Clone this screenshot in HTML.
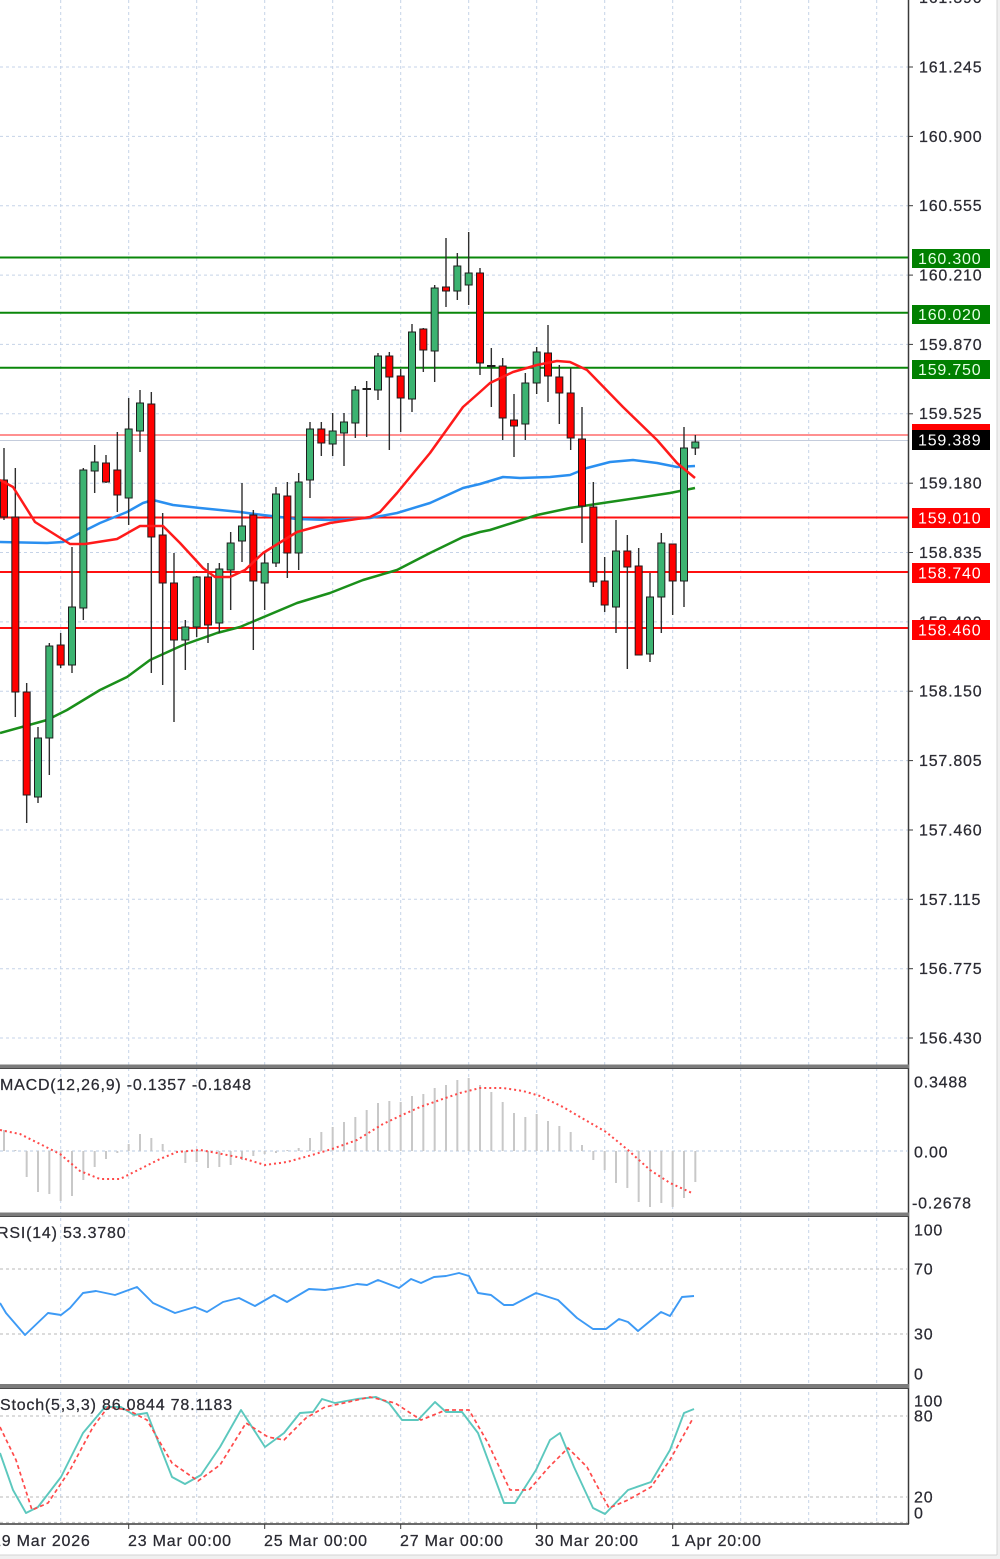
<!DOCTYPE html>
<html><head><meta charset="utf-8"><style>
html,body{margin:0;padding:0;background:#fff;}
svg{display:block;}
text{font-family:"Liberation Sans",sans-serif;font-size:16px;fill:#2b2b33;letter-spacing:0.8px;stroke:#2b2b33;stroke-width:0.25px;}
</style></head><body>
<svg width="1000" height="1559" viewBox="0 0 1000 1559" xmlns="http://www.w3.org/2000/svg">
<rect x="0" y="0" width="1000" height="1559" fill="#ffffff"/>
<rect x="997" y="0" width="3" height="1559" fill="#f0f0f0"/>
<line x1="997" y1="0" x2="997" y2="1555" stroke="#d4d4d4" stroke-width="1"/>
<rect x="0" y="1555" width="1000" height="4" fill="#f0f0f0"/>
<line x1="0" y1="1555" x2="997" y2="1555" stroke="#d4d4d4" stroke-width="1"/>

<!-- vertical grid -->
<g stroke="#c5d3e8" stroke-width="1" stroke-dasharray="3,3">
<line x1="60.7" y1="0" x2="60.7" y2="1524"/><line x1="128.7" y1="0" x2="128.7" y2="1524"/>
<line x1="196.7" y1="0" x2="196.7" y2="1524"/><line x1="264.7" y1="0" x2="264.7" y2="1524"/>
<line x1="332.7" y1="0" x2="332.7" y2="1524"/><line x1="400.7" y1="0" x2="400.7" y2="1524"/>
<line x1="468.7" y1="0" x2="468.7" y2="1524"/><line x1="536.7" y1="0" x2="536.7" y2="1524"/>
<line x1="604.7" y1="0" x2="604.7" y2="1524"/><line x1="672.7" y1="0" x2="672.7" y2="1524"/>
<line x1="740.7" y1="0" x2="740.7" y2="1524"/><line x1="808.7" y1="0" x2="808.7" y2="1524"/>
<line x1="876.7" y1="0" x2="876.7" y2="1524"/>
</g>
<!-- horizontal grid main -->
<g stroke="#c5d3e8" stroke-width="1" stroke-dasharray="3,3">
<line x1="0" y1="67" x2="908" y2="67"/><line x1="0" y1="136.4" x2="908" y2="136.4"/>
<line x1="0" y1="205.7" x2="908" y2="205.7"/><line x1="0" y1="275.1" x2="908" y2="275.1"/>
<line x1="0" y1="344.4" x2="908" y2="344.4"/><line x1="0" y1="413.8" x2="908" y2="413.8"/>
<line x1="0" y1="483.2" x2="908" y2="483.2"/><line x1="0" y1="552.5" x2="908" y2="552.5"/>
<line x1="0" y1="621.9" x2="908" y2="621.9"/><line x1="0" y1="691.2" x2="908" y2="691.2"/>
<line x1="0" y1="760.6" x2="908" y2="760.6"/><line x1="0" y1="830" x2="908" y2="830"/>
<line x1="0" y1="899.3" x2="908" y2="899.3"/><line x1="0" y1="968.7" x2="908" y2="968.7"/>
<line x1="0" y1="1038" x2="908" y2="1038"/>
</g>

<!-- level lines -->
<g stroke-width="2">
<line x1="0" y1="257.5" x2="908" y2="257.5" stroke="#0a870a"/>
<line x1="0" y1="312.7" x2="908" y2="312.7" stroke="#0a870a"/>
<line x1="0" y1="367.7" x2="908" y2="367.7" stroke="#0a870a"/>
<line x1="0" y1="517.5" x2="908" y2="517.5" stroke="#ff1010"/>
<line x1="0" y1="572" x2="908" y2="572" stroke="#ff1010"/>
<line x1="0" y1="628" x2="908" y2="628" stroke="#ff1010"/>
<line x1="0" y1="435" x2="908" y2="435" stroke="#ff9090"/>
</g>
<line x1="0" y1="440.5" x2="908" y2="440.5" stroke="#c4ccdc" stroke-width="1"/>

<!-- moving averages -->
<g fill="none" stroke-width="2.5" stroke-linejoin="round">
<polyline stroke="#1a8f1a" points="0,733 47,720 67,710 100,690 127,677 150,660 183,645 217,633 240,627 297,603 330,593 363,580 397,570 430,553 463,537 480,532 490,530 537,515 570,508 603,503 637,498 670,493 695,488"/>
<polyline stroke="#2a8ff0" points="0,542 47,543 63,542 80,533 100,523 127,512 143,503 153,500 173,505 200,508 240,512 263,515 297,519 330,520 370,518 397,513 430,503 463,488 480,484 503,477 520,478 550,477 570,475 587,468 610,462 633,460 657,463 677,467 695,466"/>
</g>

<!-- candles -->
<g stroke="#2e2e2e" stroke-width="1.4">
<line x1="4" y1="448" x2="4" y2="520"/><line x1="15.33" y1="468" x2="15.33" y2="717"/>
<line x1="26.67" y1="683" x2="26.67" y2="823"/><line x1="38" y1="727" x2="38" y2="803"/>
<line x1="49.33" y1="643" x2="49.33" y2="775"/><line x1="60.67" y1="633" x2="60.67" y2="668"/>
<line x1="72" y1="547" x2="72" y2="673"/><line x1="83.33" y1="468" x2="83.33" y2="620"/>
<line x1="94.67" y1="445" x2="94.67" y2="493"/><line x1="106" y1="455" x2="106" y2="483"/>
<line x1="117.33" y1="432" x2="117.33" y2="512"/><line x1="128.67" y1="398" x2="128.67" y2="525"/>
<line x1="140" y1="390" x2="140" y2="452"/><line x1="151.33" y1="392" x2="151.33" y2="673"/>
<line x1="162.67" y1="513" x2="162.67" y2="685"/><line x1="174" y1="553" x2="174" y2="722"/>
<line x1="185.33" y1="620" x2="185.33" y2="670"/><line x1="196.67" y1="576" x2="196.67" y2="637"/>
<line x1="208" y1="563" x2="208" y2="643"/><line x1="219.33" y1="563" x2="219.33" y2="633"/>
<line x1="230.67" y1="532" x2="230.67" y2="610"/><line x1="242" y1="483" x2="242" y2="562"/>
<line x1="253.33" y1="510" x2="253.33" y2="650"/><line x1="264.67" y1="553" x2="264.67" y2="610"/>
<line x1="276" y1="487" x2="276" y2="567"/><line x1="287.33" y1="482" x2="287.33" y2="578"/>
<line x1="298.67" y1="473" x2="298.67" y2="570"/><line x1="310" y1="422" x2="310" y2="498"/>
<line x1="321.33" y1="422" x2="321.33" y2="456"/><line x1="332.67" y1="413" x2="332.67" y2="456"/>
<line x1="344" y1="413" x2="344" y2="466"/><line x1="355.33" y1="386" x2="355.33" y2="438"/>
<line x1="366.67" y1="381" x2="366.67" y2="437"/><line x1="378" y1="353" x2="378" y2="400"/>
<line x1="389.33" y1="352" x2="389.33" y2="450"/><line x1="400.67" y1="369" x2="400.67" y2="432"/>
<line x1="412" y1="324" x2="412" y2="412"/><line x1="423.33" y1="328" x2="423.33" y2="372"/>
<line x1="434.67" y1="285" x2="434.67" y2="382"/><line x1="446" y1="238" x2="446" y2="307"/>
<line x1="457.33" y1="253" x2="457.33" y2="300"/><line x1="468.67" y1="232" x2="468.67" y2="305"/>
<line x1="480" y1="268" x2="480" y2="375"/><line x1="491.33" y1="348" x2="491.33" y2="407"/>
<line x1="502.67" y1="358" x2="502.67" y2="440"/><line x1="514" y1="394" x2="514" y2="457"/>
<line x1="525.33" y1="373" x2="525.33" y2="440"/><line x1="536.67" y1="347" x2="536.67" y2="394"/>
<line x1="548" y1="325" x2="548" y2="402"/><line x1="559.33" y1="365" x2="559.33" y2="424"/>
<line x1="570.67" y1="368" x2="570.67" y2="450"/><line x1="582" y1="407" x2="582" y2="543"/>
<line x1="593.33" y1="482" x2="593.33" y2="587"/><line x1="604.67" y1="557" x2="604.67" y2="612"/>
<line x1="616" y1="520" x2="616" y2="633"/><line x1="627.33" y1="535" x2="627.33" y2="669"/>
<line x1="638.67" y1="548" x2="638.67" y2="655"/><line x1="650" y1="573" x2="650" y2="662"/>
<line x1="661.33" y1="533" x2="661.33" y2="633"/><line x1="672.67" y1="544" x2="672.67" y2="615"/>
<line x1="684" y1="427" x2="684" y2="607"/><line x1="695.33" y1="435" x2="695.33" y2="455"/>
</g>
<g stroke="#1e1e1e" stroke-width="1">
<!-- red -->
<g fill="#ff0000">
<rect x="0.5" y="480" width="7" height="37"/><rect x="11.83" y="517" width="7" height="175"/>
<rect x="23.17" y="692" width="7" height="103"/><rect x="57.17" y="645" width="7" height="20"/>
<rect x="102.5" y="463" width="7" height="19"/><rect x="113.83" y="470" width="7" height="25"/>
<rect x="147.83" y="404" width="7" height="133"/><rect x="159.17" y="535" width="7" height="48"/>
<rect x="170.5" y="583" width="7" height="57"/><rect x="204.5" y="577" width="7" height="48"/>
<rect x="249.83" y="515" width="7" height="66"/><rect x="283.83" y="496" width="7" height="57"/>
<rect x="317.83" y="429" width="7" height="14"/><rect x="385.83" y="356" width="7" height="21"/>
<rect x="397.17" y="376" width="7" height="22"/><rect x="419.83" y="329" width="7" height="21"/>
<rect x="442.5" y="287" width="7" height="4"/><rect x="476.5" y="273" width="7" height="90"/>
<rect x="499.17" y="366" width="7" height="52"/><rect x="510.5" y="420" width="7" height="6"/>
<rect x="544.5" y="353" width="7" height="23"/><rect x="555.83" y="377" width="7" height="16"/>
<rect x="567.17" y="393" width="7" height="45"/><rect x="578.5" y="439" width="7" height="67"/>
<rect x="589.83" y="507" width="7" height="75"/><rect x="601.17" y="581" width="7" height="24"/>
<rect x="623.83" y="551" width="7" height="16"/><rect x="635.17" y="566" width="7" height="89"/>
<rect x="669.17" y="544" width="7" height="37"/>
</g>
<!-- green -->
<g fill="#3cb371">
<rect x="34.5" y="738" width="7" height="59"/><rect x="45.83" y="646" width="7" height="92"/>
<rect x="68.5" y="607" width="7" height="58"/><rect x="79.83" y="470" width="7" height="138"/>
<rect x="91.17" y="462" width="7" height="9"/><rect x="125.17" y="429" width="7" height="69"/>
<rect x="136.5" y="403" width="7" height="28"/><rect x="181.83" y="627" width="7" height="13"/>
<rect x="193.17" y="577" width="7" height="50"/><rect x="215.83" y="569" width="7" height="54"/>
<rect x="227.17" y="543" width="7" height="27"/><rect x="238.5" y="526" width="7" height="15"/>
<rect x="261.17" y="563" width="7" height="20"/><rect x="272.5" y="494" width="7" height="69"/>
<rect x="295.17" y="482" width="7" height="71"/><rect x="306.5" y="429" width="7" height="51"/>
<rect x="329.17" y="431" width="7" height="13"/><rect x="340.5" y="422" width="7" height="11"/>
<rect x="351.83" y="390" width="7" height="33"/><rect x="374.5" y="356" width="7" height="34"/>
<rect x="408.5" y="332" width="7" height="67"/><rect x="431.17" y="288" width="7" height="63"/>
<rect x="453.83" y="266" width="7" height="25"/><rect x="465.17" y="273" width="7" height="12"/>
<rect x="521.83" y="383" width="7" height="41"/><rect x="533.17" y="352" width="7" height="31"/>
<rect x="612.5" y="551" width="7" height="56"/><rect x="646.5" y="597" width="7" height="57"/>
<rect x="657.83" y="543" width="7" height="54"/><rect x="680.5" y="448" width="7" height="133"/>
<rect x="691.83" y="442" width="7" height="6"/>
</g>
</g>
<!-- dojis -->
<line x1="362.5" y1="389" x2="371" y2="389" stroke="#1e1e1e" stroke-width="2"/>
<line x1="487" y1="366" x2="495.5" y2="366" stroke="#1e1e1e" stroke-width="2"/>

<!-- red MA on top -->
<polyline fill="none" stroke="#ff1a1a" stroke-width="2.5" stroke-linejoin="round" points="0,480 13,487 35,522 70,544 85,544 117,539 140,526 163,526 180,543 203,568 215,577 230,577 245,570 263,553 297,532 330,523 370,517 380,512 397,493 430,453 463,407 480,392 490,383 513,372 537,365 557,361 570,362 587,370 623,407 657,440 677,463 695,478"/>

<!-- price axis -->
<line x1="908.5" y1="0" x2="908.5" y2="1524" stroke="#3a3a3a" stroke-width="1.5"/>
<g stroke="#3a3a3a" stroke-width="1">
<line x1="908" y1="67" x2="913" y2="67"/><line x1="908" y1="136.4" x2="913" y2="136.4"/>
<line x1="908" y1="205.7" x2="913" y2="205.7"/><line x1="908" y1="275.1" x2="913" y2="275.1"/>
<line x1="908" y1="344.4" x2="913" y2="344.4"/><line x1="908" y1="413.8" x2="913" y2="413.8"/>
<line x1="908" y1="483.2" x2="913" y2="483.2"/><line x1="908" y1="552.5" x2="913" y2="552.5"/>
<line x1="908" y1="691.2" x2="913" y2="691.2"/><line x1="908" y1="760.6" x2="913" y2="760.6"/>
<line x1="908" y1="830" x2="913" y2="830"/><line x1="908" y1="899.3" x2="913" y2="899.3"/>
<line x1="908" y1="968.7" x2="913" y2="968.7"/><line x1="908" y1="1038" x2="913" y2="1038"/>
</g>
<g>
<text x="919" y="3">161.590</text>
<text x="919" y="72.5">161.245</text>
<text x="919" y="142">160.900</text>
<text x="919" y="211">160.555</text>
<text x="919" y="280.5">160.210</text>
<text x="919" y="350">159.870</text>
<text x="919" y="419">159.525</text>
<text x="919" y="488.5">159.180</text>
<text x="919" y="558">158.835</text>
<text x="919" y="627.5">158.490</text>
<text x="919" y="696.5">158.150</text>
<text x="919" y="766">157.805</text>
<text x="919" y="835.5">157.460</text>
<text x="919" y="905">157.115</text>
<text x="919" y="974">156.775</text>
<text x="919" y="1043.5">156.430</text>
</g>
<!-- level labels -->
<rect x="912" y="249" width="78" height="19" fill="#008000"/>
<text x="918" y="264" style="fill:#e6ffe6;stroke:none">160.300</text>
<rect x="912" y="305" width="78" height="19" fill="#008000"/>
<text x="918" y="320" style="fill:#e6ffe6;stroke:none">160.020</text>
<rect x="912" y="360" width="78" height="19" fill="#008000"/>
<text x="918" y="375" style="fill:#e6ffe6;stroke:none">159.750</text>
<rect x="912" y="508" width="78" height="20" fill="#ff0000"/>
<text x="918" y="523.5" style="fill:#ffffff;stroke:none">159.010</text>
<rect x="912" y="563" width="78" height="20" fill="#ff0000"/>
<text x="918" y="578.5" style="fill:#ffffff;stroke:none">158.740</text>
<rect x="912" y="620" width="78" height="20" fill="#ff0000"/>
<text x="918" y="635.5" style="fill:#ffffff;stroke:none">158.460</text>
<rect x="912" y="424" width="78" height="20" fill="#ff0000"/>
<rect x="912" y="430" width="78" height="20" fill="#000000"/>
<text x="918" y="445.5" style="fill:#ffffff;stroke:none">159.389</text>

<!-- separators -->
<rect x="0" y="1064.5" width="909" height="4.5" fill="#7c7c7c"/>
<line x1="0" y1="1068.5" x2="909" y2="1068.5" stroke="#4a4a4a" stroke-width="1"/>
<rect x="0" y="1212.5" width="909" height="4.5" fill="#7c7c7c"/>
<line x1="0" y1="1216.5" x2="909" y2="1216.5" stroke="#4a4a4a" stroke-width="1"/>
<rect x="0" y="1384" width="909" height="4.5" fill="#7c7c7c"/>
<line x1="0" y1="1388.5" x2="909" y2="1388.5" stroke="#4a4a4a" stroke-width="1"/>

<!-- MACD panel -->
<line x1="0" y1="1151" x2="908" y2="1151" stroke="#c5d3e8" stroke-width="1.2" stroke-dasharray="3,3"/>
<g stroke="#c8c8c8" stroke-width="2">
<line x1="4" y1="1151" x2="4" y2="1130"/><line x1="15.33" y1="1151" x2="15.33" y2="1150"/>
<line x1="26.67" y1="1151" x2="26.67" y2="1177"/><line x1="38" y1="1151" x2="38" y2="1192"/>
<line x1="49.33" y1="1151" x2="49.33" y2="1194"/><line x1="60.67" y1="1151" x2="60.67" y2="1201"/>
<line x1="72" y1="1151" x2="72" y2="1196"/><line x1="83.33" y1="1151" x2="83.33" y2="1180"/>
<line x1="94.67" y1="1151" x2="94.67" y2="1167"/><line x1="106" y1="1151" x2="106" y2="1159"/>
<line x1="117.33" y1="1151" x2="117.33" y2="1153"/><line x1="128.67" y1="1151" x2="128.67" y2="1144"/>
<line x1="140" y1="1151" x2="140" y2="1134"/><line x1="151.33" y1="1151" x2="151.33" y2="1138"/>
<line x1="162.67" y1="1151" x2="162.67" y2="1144"/><line x1="174" y1="1151" x2="174" y2="1151"/>
<line x1="185.33" y1="1151" x2="185.33" y2="1163"/><line x1="196.67" y1="1151" x2="196.67" y2="1162"/>
<line x1="208" y1="1151" x2="208" y2="1168"/><line x1="219.33" y1="1151" x2="219.33" y2="1167"/>
<line x1="230.67" y1="1151" x2="230.67" y2="1165"/><line x1="242" y1="1151" x2="242" y2="1160"/>
<line x1="253.33" y1="1151" x2="253.33" y2="1156"/><line x1="264.67" y1="1151" x2="264.67" y2="1154"/>
<line x1="276" y1="1151" x2="276" y2="1153"/><line x1="287.33" y1="1151" x2="287.33" y2="1150"/>
<line x1="298.67" y1="1151" x2="298.67" y2="1148"/><line x1="310" y1="1151" x2="310" y2="1138"/>
<line x1="321.33" y1="1151" x2="321.33" y2="1132"/><line x1="332.67" y1="1151" x2="332.67" y2="1127"/>
<line x1="344" y1="1151" x2="344" y2="1122"/><line x1="355.33" y1="1151" x2="355.33" y2="1117"/>
<line x1="366.67" y1="1151" x2="366.67" y2="1110"/><line x1="378" y1="1151" x2="378" y2="1103"/>
<line x1="389.33" y1="1151" x2="389.33" y2="1101"/><line x1="400.67" y1="1151" x2="400.67" y2="1102"/>
<line x1="412" y1="1151" x2="412" y2="1096"/><line x1="423.33" y1="1151" x2="423.33" y2="1094"/>
<line x1="434.67" y1="1151" x2="434.67" y2="1088"/><line x1="446" y1="1151" x2="446" y2="1085"/>
<line x1="457.33" y1="1151" x2="457.33" y2="1080"/><line x1="468.67" y1="1151" x2="468.67" y2="1078"/>
<line x1="480" y1="1151" x2="480" y2="1085"/><line x1="491.33" y1="1151" x2="491.33" y2="1092"/>
<line x1="502.67" y1="1151" x2="502.67" y2="1102"/><line x1="514" y1="1151" x2="514" y2="1113"/>
<line x1="525.33" y1="1151" x2="525.33" y2="1117"/><line x1="536.67" y1="1151" x2="536.67" y2="1114"/>
<line x1="548" y1="1151" x2="548" y2="1121"/><line x1="559.33" y1="1151" x2="559.33" y2="1126"/>
<line x1="570.67" y1="1151" x2="570.67" y2="1132"/><line x1="582" y1="1151" x2="582" y2="1145"/>
<line x1="593.33" y1="1151" x2="593.33" y2="1160"/><line x1="604.67" y1="1151" x2="604.67" y2="1170"/>
<line x1="616" y1="1151" x2="616" y2="1183"/><line x1="627.33" y1="1151" x2="627.33" y2="1188"/>
<line x1="638.67" y1="1151" x2="638.67" y2="1202"/><line x1="650" y1="1151" x2="650" y2="1207"/>
<line x1="661.33" y1="1151" x2="661.33" y2="1203"/><line x1="672.67" y1="1151" x2="672.67" y2="1207"/>
<line x1="684" y1="1151" x2="684" y2="1198"/><line x1="695.33" y1="1151" x2="695.33" y2="1182"/>
</g>
<polyline fill="none" stroke="#ff4a4a" stroke-width="2" stroke-dasharray="2,3" points="0,1130 20,1134 40,1144 60,1154 80,1171 100,1179 120,1179 140,1169 160,1159 177,1152 200,1150 217,1153 242,1158 265,1165 287,1162 312,1155 332,1149 357,1140 383,1124 400,1116 420,1107 437,1101 460,1093 480,1088 503,1088 523,1091 540,1096 563,1107 580,1117 606,1132 628,1150 650,1170 670,1183 692,1193"/>
<text x="0" y="1090">MACD(12,26,9) -0.1357 -0.1848</text>
<text x="914" y="1087.5">0.3488</text>
<text x="914" y="1157.5">0.00</text>
<text x="912" y="1208.5">-0.2678</text>

<!-- RSI panel -->
<g stroke="#c8c8c8" stroke-width="1.2" stroke-dasharray="3,3">
<line x1="0" y1="1269" x2="908" y2="1269"/><line x1="0" y1="1334" x2="908" y2="1334"/>
</g>
<polyline fill="none" stroke="#3d9af5" stroke-width="1.9" stroke-linejoin="round" points="0,1303 6,1313 25,1335 48,1313 61,1315 70,1308 83,1293 96,1291 115,1295 137,1287 153,1303 175,1313 195,1307 207,1312 223,1302 239,1298 255,1306 274,1295 287,1302 309,1289 325,1290 344,1287 357,1284 367,1285 378,1280 399,1288 411,1279 421,1283 434,1277 446,1276 459,1273 469,1276 478,1293 491,1295 504,1305 513,1305 536,1293 558,1300 577,1318 593,1329 606,1329 619,1319 628,1322 638,1331 661,1312 670,1316 682,1297 694,1296"/>
<text x="-3" y="1238">RSI(14) 53.3780</text>
<text x="914" y="1235.5">100</text>
<text x="914" y="1274.5">70</text>
<text x="914" y="1339.5">30</text>
<text x="914" y="1379.5">0</text>

<!-- Stoch panel -->
<g stroke="#c8c8c8" stroke-width="1.2" stroke-dasharray="3,3">
<line x1="0" y1="1416" x2="908" y2="1416"/><line x1="0" y1="1497" x2="908" y2="1497"/>
<line x1="0" y1="1522.5" x2="908" y2="1522.5"/>
</g>
<polyline fill="none" stroke="#5cc8be" stroke-width="1.9" stroke-linejoin="round" points="0,1453 13,1490 26,1513 38,1507 61,1477 83,1433 105,1407 121,1407 134,1415 147,1413 172,1477 185,1484 201,1475 220,1447 241,1410 265,1447 284,1433 300,1413 313,1412 322,1399 335,1403 357,1399 376,1397 389,1403 402,1420 418,1420 435,1402 446,1412 462,1412 478,1433 504,1503 515,1503 536,1470 550,1440 560,1433 574,1467 593,1508 605,1514 628,1490 651,1482 670,1450 684,1413 694,1409"/>
<polyline fill="none" stroke="#ff4a4a" stroke-width="1.7" stroke-dasharray="4,3" points="0,1427 16,1460 32,1510 48,1503 70,1470 93,1427 108,1407 128,1410 147,1420 172,1463 198,1481 220,1465 246,1423 268,1437 284,1440 306,1418 325,1407 344,1403 370,1397 395,1403 421,1420 446,1410 469,1410 488,1443 510,1490 529,1490 549,1467 568,1448 587,1467 609,1508 628,1500 651,1487 670,1460 692,1420"/>
<text x="0" y="1410">Stoch(5,3,3) 86.0844 78.1183</text>
<text x="914" y="1406.5">100</text>
<text x="914" y="1421.5">80</text>
<text x="914" y="1502.5">20</text>
<text x="914" y="1518.5">0</text>

<!-- time axis -->
<line x1="0" y1="1524" x2="909" y2="1524" stroke="#3a3a3a" stroke-width="1.5"/>
<g stroke="#3a3a3a" stroke-width="1">
<line x1="128.7" y1="1524" x2="128.7" y2="1529"/><line x1="264.7" y1="1524" x2="264.7" y2="1529"/>
<line x1="400.7" y1="1524" x2="400.7" y2="1529"/><line x1="536.7" y1="1524" x2="536.7" y2="1529"/>
<line x1="672.7" y1="1524" x2="672.7" y2="1529"/>
</g>
<text x="-8" y="1546">19 Mar 2026</text>
<text x="128" y="1546">23 Mar 00:00</text>
<text x="264" y="1546">25 Mar 00:00</text>
<text x="400" y="1546">27 Mar 00:00</text>
<text x="535" y="1546">30 Mar 20:00</text>
<text x="671" y="1546">1 Apr 20:00</text>
</svg>
</body></html>
